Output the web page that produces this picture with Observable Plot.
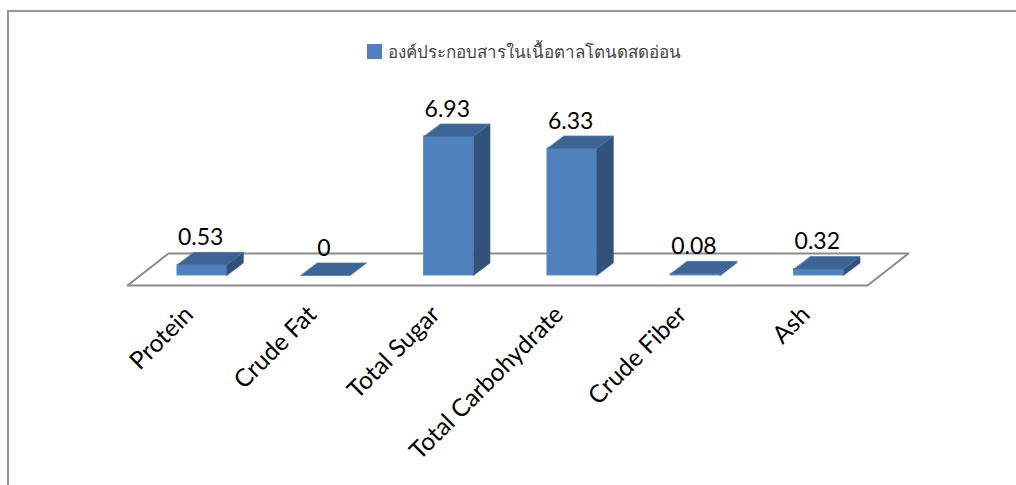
<!DOCTYPE html>
<html lang="th">
<head>
<meta charset="utf-8">
<script src="https://cdn.jsdelivr.net/npm/d3@7"></script>
<script src="https://cdn.jsdelivr.net/npm/@observablehq/plot@0.6"></script>
<style>
  html, body { margin: 0; padding: 0; background: #fff; overflow: hidden; }
  #stage { position: relative; width: 1016px; height: 485px; overflow: hidden; }
  #frame { position: absolute; left: 7px; top: 10px; width: 1100px; height: 600px;
           border-left: 2px solid #969696; border-top: 2px solid #969696; }
  #legend { position: absolute; left: 367px; top: 38px; display: flex; align-items: center;
            font-family: "Noto Sans", sans-serif; font-size: 17px; color: #444; white-space: nowrap; }
  #legend i { display: inline-block; width: 15px; height: 15px; background: #4f81bd; margin-right: 6px; }
  svg { position: absolute; left: 0; top: 0; background: transparent; }
</style>
</head>
<body>
<div id="stage">
  <div id="frame"></div>
  <div id="legend"><i></i><span>องค์ประกอบสารในเนื้อตาลโตนดสดอ่อน</span></div>
</div>
<script>
const categories = ["Protein", "Crude Fat", "Total Sugar", "Total Carbohydrate", "Crude Fiber", "Ash"];
const values = [0.53, 0, 6.93, 6.33, 0.08, 0.32];

// Oblique projection, expressed in data units of the two scales
const barStart = 0.405, barWidth = 0.4, depthX = 0.134, depthY = 0.623;
const floorLow = -0.5, floorHigh = 1.097, floorShift = 0.3324;

const bars = values.map((v, i) => ({
  name: categories[i], value: v,
  x1: i + barStart, x2: i + barStart + barWidth, xc: i + barStart + barWidth / 2
}));

const floor = [
  {x: 0, y: floorLow},
  {x: categories.length, y: floorLow},
  {x: categories.length + floorShift, y: floorHigh},
  {x: floorShift, y: floorHigh}
];

const topFaces = bars.flatMap((b) => [
  {id: b.name, x: b.x1, y: b.value},
  {id: b.name, x: b.x2, y: b.value},
  {id: b.name, x: b.x2 + depthX, y: b.value + depthY},
  {id: b.name, x: b.x1 + depthX, y: b.value + depthY}
]);

const sideFaces = bars.filter((b) => b.value > 0).flatMap((b) => [
  {id: b.name, x: b.x2, y: 0},
  {id: b.name, x: b.x2 + depthX, y: depthY},
  {id: b.name, x: b.x2 + depthX, y: b.value + depthY},
  {id: b.name, x: b.x2, y: b.value}
]);

const chart = Plot.plot({
  width: 1016,
  height: 485,
  margin: 0,
  style: {background: "transparent", overflow: "visible"},
  x: {domain: [0, categories.length], range: [127, 867]},
  y: {domain: [floorLow, 7.6], range: [285, 122.5], axis: null},
  marks: [
    Plot.line(floor, {x: "x", y: "y", curve: "linear-closed", stroke: "#8c8c8c", strokeWidth: 2, fill: "none"}),
    Plot.rectY(bars, {x1: "x1", x2: "x2", y1: 0, y2: "value", fill: "#4f81bd", stroke: "#5c8cc6", strokeWidth: 1, title: "name"}),
    Plot.line(sideFaces, {x: "x", y: "y", z: "id", curve: "linear-closed", fill: "#32527c", stroke: "#3a5e8c", strokeWidth: 0.7}),
    Plot.line(topFaces, {x: "x", y: "y", z: "id", curve: "linear-closed", fill: "#3c6494", stroke: "#4a76a8", strokeWidth: 0.7}),
    Plot.text(bars, {x: "xc", y: "value", text: (d) => String(d.value), dy: -27, dx: -1.5, fontSize: 23, fontFamily: "Lato", fill: "#000"}),
    Plot.axisX({
      ticks: categories.map((_, i) => i + 0.5),
      tickFormat: (t) => categories[Math.floor(t)],
      tickRotate: -45,
      tickSize: 0,
      label: null,
      anchor: "bottom",
      y: floorLow,
      tickPadding: 25,
      textAnchor: "end",
      fontSize: 24.5,
      fontFamily: "Lato",
      fill: "#000"
    })
  ]
});
document.getElementById("stage").appendChild(chart);
</script>
</body>
</html>
